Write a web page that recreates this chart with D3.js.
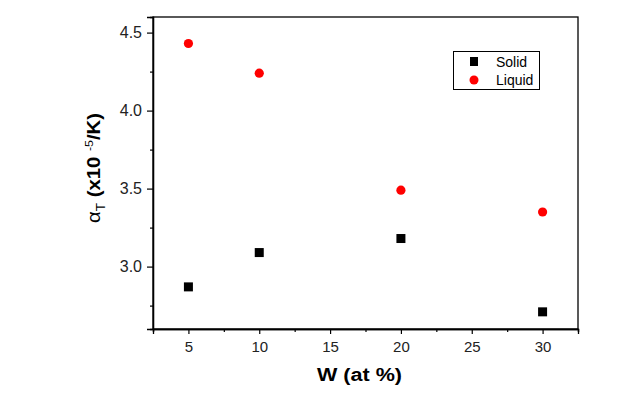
<!DOCTYPE html>
<html><head><meta charset="utf-8">
<script src="https://cdn.jsdelivr.net/npm/d3@7/dist/d3.min.js"></script>
<style>body{margin:0;background:#fff}svg{display:block}</style>
</head><body>
<script>
const wAt = [5, 10, 20, 30];
const solid = [2.87, 3.09, 3.18, 2.71];
const liquid = [4.43, 4.24, 3.49, 3.35];
const xTicks = [5, 10, 15, 20, 25, 30];
const yTicks = [3.0, 3.5, 4.0, 4.5];
const xMinor = [2.5, 7.5, 12.5, 17.5, 22.5, 27.5, 32.5];
const yMinor = [2.75, 3.25, 3.75, 4.25];

const W = 632, H = 408;
const m = {l: 153, t: 17, r: 578, b: 329};
const svg = d3.select("body").append("svg").attr("width", W).attr("height", H);
const x = d3.scaleLinear().domain([2.5, 32.5]).range([m.l, m.r]);
const y = d3.scaleLinear().domain([2.6, 4.6]).range([m.b, m.t]);

svg.append("rect").attr("x", m.l).attr("y", m.t).attr("width", m.r - m.l).attr("height", m.b - m.t)
  .attr("fill", "none").attr("stroke", "#000").attr("stroke-width", 1.3);

const font = "Arial, 'Liberation Sans', sans-serif";
const gx = svg.append("g").attr("transform", `translate(0,${m.b})`)
  .call(d3.axisBottom(x).tickValues(xTicks).tickFormat(d3.format("d")).tickSize(5).tickPadding(7));
gx.append("g").call(d3.axisBottom(x).tickValues(xMinor).tickFormat("").tickSize(3));
const gy = svg.append("g").attr("transform", `translate(${m.l},0)`)
  .call(d3.axisLeft(y).tickValues(yTicks).tickFormat(d3.format(".1f")).tickSize(6).tickPadding(5));
gy.append("g").call(d3.axisLeft(y).tickValues(yMinor).tickFormat("").tickSize(3));
svg.selectAll(".domain").attr("stroke", "#000").attr("stroke-width", 1.3);
svg.selectAll(".tick line").attr("stroke", "#000").attr("stroke-width", 1.2);
gx.selectAll(".tick text").attr("font-family", font).attr("font-size", 15).attr("fill", "#222");
gy.selectAll(".tick text").attr("font-family", font).attr("font-size", 16).attr("fill", "#222");

svg.append("g").selectAll("rect").data(wAt).join("rect")
  .attr("x", (d) => x(d) - 4.5).attr("y", (d, i) => y(solid[i]) - 4.5)
  .attr("width", 9).attr("height", 9).attr("fill", "#000");
svg.append("g").selectAll("circle").data(wAt).join("circle")
  .attr("cx", (d) => x(d)).attr("cy", (d, i) => y(liquid[i])).attr("r", 4.6).attr("fill", "#f00");

svg.append("text").attr("x", (m.l + m.r) / 2 - 6).attr("y", 381).attr("text-anchor", "middle")
  .attr("font-family", font).attr("font-weight", "bold").attr("font-size", 18)
  .attr("textLength", 85).attr("lengthAdjust", "spacingAndGlyphs").text("W (at %)");

const yt = svg.append("text").attr("transform", "translate(100,168) rotate(-90)")
  .attr("text-anchor", "middle").attr("font-family", font).attr("font-size", 18).attr("font-weight", "bold")
  .attr("textLength", 110).attr("lengthAdjust", "spacingAndGlyphs");
yt.append("tspan").attr("font-weight", "normal").text("α");
yt.append("tspan").attr("font-size", 12).attr("font-weight", "normal").attr("dy", 5).text("T");
yt.append("tspan").attr("dy", -5).text(" (x10 ");
yt.append("tspan").attr("font-size", 11).attr("font-weight", "normal").attr("dy", -7).text("-5");
yt.append("tspan").attr("dy", 7).text("/K)");

const lg = svg.append("g");
lg.append("rect").attr("x", 453.5).attr("y", 51.5).attr("width", 86).attr("height", 38)
  .attr("fill", "#fff").attr("stroke", "#000").attr("stroke-width", 1);
const series = ["Solid", "Liquid"];
series.forEach((s, i) => {
  const cy = 61.5 + i * 18.5;
  if (i === 0) lg.append("rect").attr("x", 470).attr("y", cy - 4.5).attr("width", 8).attr("height", 9).attr("fill", "#000");
  else lg.append("circle").attr("cx", 474).attr("cy", cy).attr("r", 4.5).attr("fill", "#f00");
  lg.append("text").attr("x", 496).attr("y", cy + 5).attr("font-family", font).attr("font-size", 14)
    .attr("fill", "#000").text(s);
});
</script>
</body></html>
